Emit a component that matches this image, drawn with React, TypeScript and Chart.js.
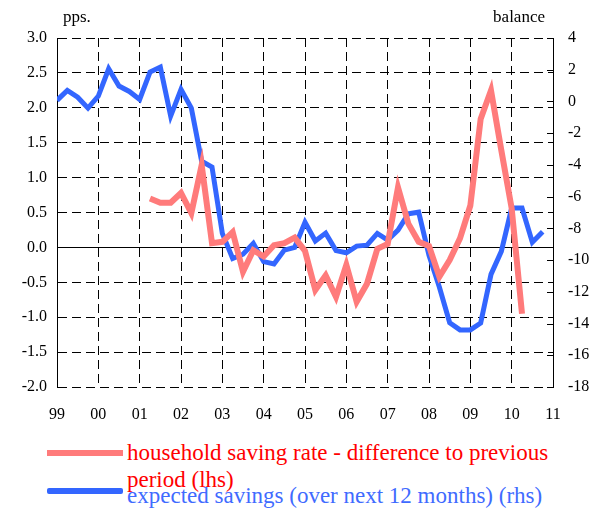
import React, { useEffect, useRef } from "react";
import { Chart, registerables } from "chart.js";

Chart.register(...registerables);

// Year tick labels (one every 4 quarters, 1999Q1 .. 2011Q1)
const yearLabels = ["99", "00", "01", "02", "03", "04", "05", "06", "07", "08", "09", "10", "11"];

// household saving rate - difference to previous period (lhs), quarterly, starts 2001Q2
const savingRateStartQuarter = 9;
const savingRate = [
  0.70, 0.64, 0.64, 0.78, 0.49, 1.18, 0.06, 0.08, 0.22, -0.35,
  -0.04, -0.13, 0.03, 0.06, 0.14, -0.05, -0.61, -0.40, -0.71, -0.25,
  -0.78, -0.52, -0.02, 0.05, 0.86, 0.34, 0.08, 0.02, -0.42, -0.18,
  0.13, 0.60, 1.84, 2.25, 1.39, 0.56, -0.95,
];

// expected savings over next 12 months (rhs), quarterly, 1999Q1 .. 2010Q4
const expectedSavings = [
  0.07, 0.7, 0.27, -0.42, 0.34, 2.06, 0.97, 0.63, 0.13, 1.85,
  2.16, -0.92, 0.76, -0.42, -3.77, -4.13, -8.32, -9.9, -9.63, -8.95,
  -10.1, -10.25, -9.37, -9.2, -7.62, -8.8, -8.3, -9.4, -9.54, -9.12,
  -9.06, -8.32, -8.74, -8.11, -7.08, -6.98, -9.7, -11.7, -13.95, -14.4,
  -14.4, -13.97, -10.9, -9.45, -6.72, -6.72, -8.88, -8.22,
];

const legendRed = ["household saving rate - difference to previous", "period (lhs)"];
const legendBlue = "expected savings (over next 12 months) (rhs)";

const RED = "#FF7B7B";
const BLUE = "#3366FF";
const FONT = "'Liberation Serif', 'Times New Roman', serif";

const decorations = {
  id: "decorations",
  beforeDatasetsDraw(chart: any) {
    const { ctx, chartArea, scales } = chart;
    const y0 = Math.round(scales.y.getPixelForValue(0)) + 0.5;
    ctx.save();
    ctx.strokeStyle = "#000";
    ctx.lineWidth = 1;
    ctx.setLineDash([]);
    ctx.beginPath();
    ctx.moveTo(chartArea.left, y0);
    ctx.lineTo(chartArea.right, y0);
    ctx.stroke();
    // right axis inner tick marks
    scales.y1.ticks.forEach((t: any) => {
      const yy = Math.round(scales.y1.getPixelForValue(t.value)) + 0.5;
      ctx.beginPath();
      ctx.moveTo(chartArea.right - 6, yy);
      ctx.lineTo(chartArea.right, yy);
      ctx.stroke();
    });
    ctx.restore();
  },
};

export default function App() {
  const ref = useRef<HTMLCanvasElement | null>(null);

  useEffect(() => {
    if (!ref.current) return;
    const redData = savingRate.map((v, i) => ({ x: savingRateStartQuarter + i, y: v }));
    const blueData = expectedSavings.map((v, i) => ({ x: i, y: v }));
    const chart = new Chart(ref.current, {
      type: "line",
      data: {
        datasets: [
          {
            label: legendRed.join(" "),
            data: redData,
            yAxisID: "y",
            borderColor: RED,
            borderWidth: 6,
            pointRadius: 0,
            tension: 0,
            fill: false,
          },
          {
            label: legendBlue,
            data: blueData,
            yAxisID: "y1",
            borderColor: BLUE,
            borderWidth: 5,
            pointRadius: 0,
            tension: 0,
            fill: false,
          },
        ],
      },
      plugins: [decorations],
      options: {
        animation: false,
        responsive: false,
        devicePixelRatio: 1,
        layout: { padding: { top: 38, left: 0, right: 0, bottom: 0 } },
        plugins: { legend: { display: false }, tooltip: { enabled: false }, title: { display: false } },
        scales: {
          x: {
            type: "linear",
            min: 0,
            max: 48,
            ticks: {
              stepSize: 4,
              autoSkip: false,
              maxRotation: 0,
              padding: 18,
              color: "#000",
              font: { family: FONT, size: 16 },
              callback: (v: any) => yearLabels[Math.round(Number(v) / 4)] ?? "",
            },
            grid: { color: "#000", lineWidth: 1, drawTicks: false },
            border: { display: false, dash: [9, 5] },
            afterFit: (s: any) => { s.height = 43; },
          },
          y: {
            position: "left",
            min: -2,
            max: 3,
            ticks: {
              stepSize: 0.5,
              padding: 10,
              color: "#000",
              font: { family: FONT, size: 16 },
              callback: (v: any) => Number(v).toFixed(1),
            },
            grid: { color: "#000", lineWidth: 1, drawTicks: false },
            border: { display: true, color: "#000", width: 1, dash: [9, 5] },
            afterFit: (s: any) => { s.width = 57; },
          },
          y1: {
            position: "right",
            min: -18,
            max: 4,
            ticks: {
              stepSize: 2,
              padding: 15,
              color: "#000",
              font: { family: FONT, size: 16 },
            },
            grid: { drawOnChartArea: false, drawTicks: false },
            border: { display: true, color: "#000", width: 1 },
            afterFit: (s: any) => { s.width = 57; },
          },
        },
      },
    });
    return () => chart.destroy();
  }, []);

  return (
    <div style={{ position: "fixed", left: 0, top: 0, width: 610, height: 513, background: "#fff", fontFamily: FONT }}>
      <canvas ref={ref} width={610} height={430} style={{ position: "absolute", left: 0, top: 0, width: 610, height: 430 }} />
      <div style={{ position: "absolute", left: 63, top: 7, fontSize: 17, lineHeight: "20px", color: "#000" }}>pps.</div>
      <div style={{ position: "absolute", right: 610 - 545, top: 7, fontSize: 17, lineHeight: "20px", color: "#000" }}>balance</div>
      <div style={{ position: "absolute", left: 47, top: 450, width: 76, height: 6, background: RED }} />
      <div style={{ position: "absolute", left: 127, top: 439, fontSize: 23, lineHeight: "27px", color: "#FF0000", whiteSpace: "nowrap" }}>
        {legendRed[0]}
        <br />
        {legendRed[1]}
      </div>
      <div style={{ position: "absolute", left: 47, top: 488, width: 76, height: 6, background: BLUE, borderRadius: 2 }} />
      <div style={{ position: "absolute", left: 127, top: 482, fontSize: 23, lineHeight: "27px", color: "#3F6BFF", whiteSpace: "nowrap" }}>
        {legendBlue}
      </div>
    </div>
  );
}
